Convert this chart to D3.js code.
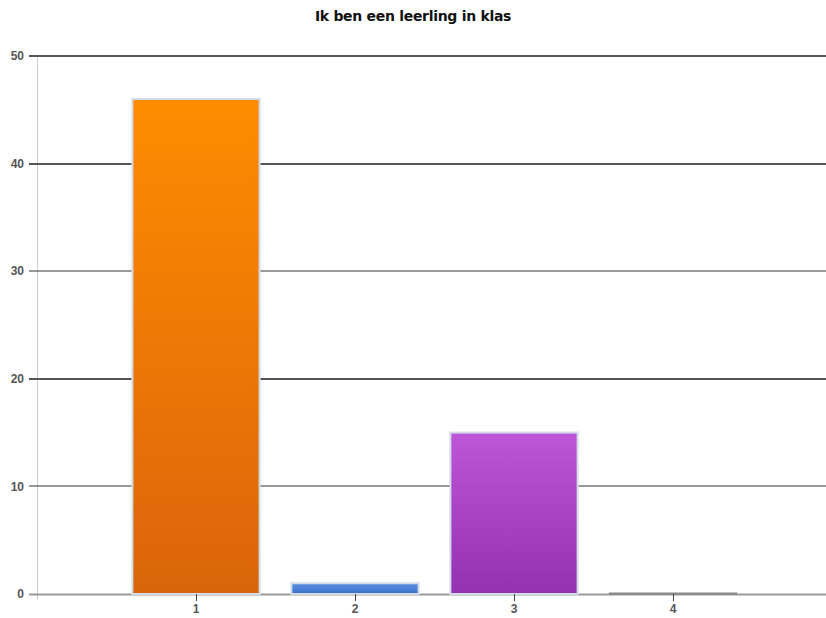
<!DOCTYPE html>
<html>
<head>
<meta charset="utf-8">
<script src="https://cdn.jsdelivr.net/npm/d3@7"></script>
<style>
	body { margin: 0; background: #fff; }
	svg { display: block; font-family: Arial, "Liberation Sans", sans-serif; }
</style>
</head>
<body>
<svg id="chart" width="826" height="618"></svg>
<script>
'use strict';

var aCategories = ['1', '2', '3', '4'];
var aValues = [46, 1, 15, 0];
var aColorsTop = ['#ff8c00', '#5b8fe2', '#bd56d8'];
var aColorsBottom = ['#d9650b', '#3d6fca', '#9431b0'];
var aTicksY = [0, 10, 20, 30, 40, 50];
var strTitle = 'Ik ben een leerling in klas';

var sSvg = d3.select('#chart');
var rMargin = {top: 56, right: 0, bottom: 24, left: 37};
var nWidth = 826 - rMargin.left;
var nHeight = 618 - rMargin.top - rMargin.bottom;

var scaleX = d3.scaleLinear().domain([0, 5]).range([0, 795]);
var scaleY = d3.scaleLinear().domain([0, 50]).range([nHeight, 0]);
var nBarWidth = (scaleX(1) - scaleX(0)) * 0.8;

var sDefs = sSvg.append('defs');
aColorsTop.forEach(function(c, i)
{
	var sGrad = sDefs.append('linearGradient')
		.attr('id', 'grad' + i)
		.attr('x1', 0).attr('y1', 0).attr('x2', 0).attr('y2', 1);
	sGrad.append('stop').attr('offset', '0%').attr('stop-color', c);
	sGrad.append('stop').attr('offset', '100%').attr('stop-color', aColorsBottom[i]);
});

sSvg.append('text')
	.attr('x', 413)
	.attr('y', 21)
	.attr('text-anchor', 'middle')
	.style('font-family', '"DejaVu Sans", Verdana, sans-serif')
	.style('font-size', '14px')
	.style('font-weight', 'bold')
	.style('letter-spacing', '-0.3px')
	.attr('fill', '#111')
	.text(strTitle);

var sChart = sSvg.append('g')
	.attr('transform', 'translate(' + rMargin.left + ',' + rMargin.top + ')');

// vertical axis line
sChart.append('line')
	.attr('x1', 0.5).attr('x2', 0.5)
	.attr('y1', 0).attr('y2', nHeight + 6)
	.attr('stroke', '#ccc');

// gridlines
sChart.selectAll('.grid')
	.data(aTicksY.filter(function(d) { return d > 0; }))
	.enter()
	.append('line')
		.attr('x1', -8).attr('x2', nWidth)
		.attr('y1', function(d) { return Math.round(scaleY(d)); })
		.attr('y2', function(d) { return Math.round(scaleY(d)); })
		.attr('stroke', function(d) { return d % 20 == 0 || d == 50 ? '#555' : '#333'; })
		.attr('stroke-width', function(d) { return d % 20 == 0 || d == 50 ? 2 : 1; });

// baseline
sChart.append('line')
	.attr('x1', -8).attr('x2', nWidth)
	.attr('y1', nHeight + 0.5).attr('y2', nHeight + 0.5)
	.attr('stroke', '#999').attr('stroke-width', 2);

// y labels
sChart.selectAll('.ylab')
	.data(aTicksY)
	.enter()
	.append('text')
		.attr('x', -13)
		.attr('y', function(d) { return scaleY(d); })
		.attr('dy', '0.35em')
		.attr('text-anchor', 'end')
		.style('font-size', '12px')
		.style('font-weight', 'bold')
		.attr('fill', '#555')
		.text(function(d) { return d; });

// bars
var sBars = sChart.selectAll('.bar')
	.data(aValues)
	.enter()
	.append('g')
		.attr('class', 'bar');

sBars.append('rect')
	.attr('x', function(d, i) { return scaleX(i + 1) - nBarWidth / 2; })
	.attr('y', function(d) { return Math.min(scaleY(d), nHeight - 1); })
	.attr('width', nBarWidth)
	.attr('height', function(d) { return Math.max(nHeight - scaleY(d), 1); })
	.attr('fill', function(d, i) { return i < aColorsTop.length ? 'url(#grad' + i + ')' : '#888'; })
	.attr('stroke', function(d) { return d > 0 ? '#d3dae8' : '#888'; })
	.attr('stroke-width', function(d) { return d > 0 ? 2 : 1; });

// x ticks and labels
sChart.selectAll('.xtick')
	.data(aCategories)
	.enter()
	.append('line')
		.attr('x1', function(d, i) { return Math.round(scaleX(i + 1)) + 0.5; })
		.attr('x2', function(d, i) { return Math.round(scaleX(i + 1)) + 0.5; })
		.attr('y1', nHeight).attr('y2', nHeight + 7)
		.attr('stroke', '#444');

sChart.selectAll('.xlab')
	.data(aCategories)
	.enter()
	.append('text')
		.attr('x', function(d, i) { return scaleX(i + 1); })
		.attr('y', nHeight + 19)
		.attr('text-anchor', 'middle')
		.style('font-size', '12px')
		.style('font-weight', 'bold')
		.attr('fill', '#555')
		.text(function(d) { return d; });
</script>
</body>
</html>
